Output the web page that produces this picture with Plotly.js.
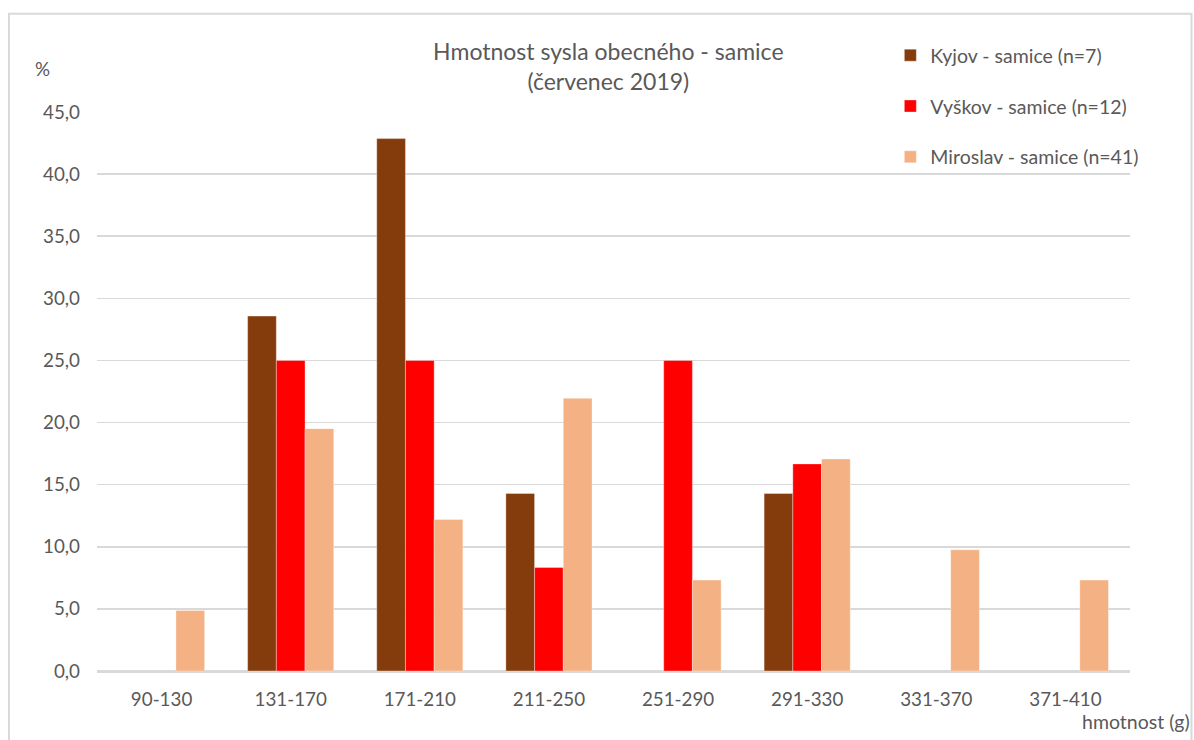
<!DOCTYPE html>
<html>
<head>
<meta charset="utf-8">
<script src="https://cdn.plot.ly/plotly-3.0.1.min.js"></script>
<style>
  html, body { margin: 0; padding: 0; background: #fff; }
  #chart { width: 1194px; height: 740px; }
</style>
</head>
<body>
<div id="chart"></div>
<script>
// Weight classes (g)
const categories = ['90-130', '131-170', '171-210', '211-250', '251-290', '291-330', '331-370', '371-410'];

// Share of females per weight class (%)
const kyjov    = [null, 28.57, 42.86, 14.29, null, 14.29, null, null];
const vyskov   = [null, 25.0, 25.0, 8.33, 25.0, 16.67, null, null];
const miroslav = [4.88, 19.51, 12.20, 21.95, 7.32, 17.07, 9.76, 7.32];

const seriesNames = ['Kyjov - samice (n=7)', 'Vyškov - samice (n=12)', 'Miroslav - samice (n=41)'];
const seriesColors = ['#843c0c', '#ff0000', '#f4b183'];

const FONT = 'Lato, "Open Sans", sans-serif';
const TEXT = '#595959';
const TICK = 18.8;

const traces = [kyjov, vyskov, miroslav].map((vals, i) => ({
  type: 'bar',
  name: seriesNames[i],
  x: categories,
  y: vals,
  legendgroup: 'g' + i,
  marker: { color: seriesColors[i], line: { color: 'rgba(255,255,255,0.35)', width: 1 } },
  hoverinfo: 'x+y+name'
}));

const layout = {
  width: 1194,
  height: 740,
  margin: { l: 97, r: 64, t: 112, b: 69 },
  paper_bgcolor: '#ffffff',
  plot_bgcolor: '#ffffff',
  font: { family: FONT, color: TEXT, size: TICK },
  barmode: 'group',
  bargap: 0.333,
  bargroupgap: 0,
  title: {
    text: 'Hmotnost sysla obecného - samice<br>(červenec 2019)',
    font: { family: FONT, size: 23, color: TEXT },
    x: 0.495, xref: 'paper', xanchor: 'center',
    y: 0.919, yref: 'container', yanchor: 'top'
  },
  xaxis: {
    type: 'category',
    showgrid: false,
    showline: true,
    linecolor: '#d9d9d9',
    linewidth: 1.5,
    ticks: '',
    ticklabelstandoff: 11,
    tickfont: { family: FONT, size: TICK, color: TEXT },
    zeroline: false
  },
  yaxis: {
    range: [0, 45],
    dtick: 5,
    tickformat: '.1f',
    showgrid: true,
    gridcolor: '#d9d9d9',
    gridwidth: 1.5,
    zeroline: true,
    zerolinecolor: '#d9d9d9',
    zerolinewidth: 1.5,
    showline: false,
    ticks: '',
    ticklabelstandoff: 16,
    tickfont: { family: FONT, size: TICK, color: TEXT }
  },
  separators: ',.',
  showlegend: true,
  legend: {
    x: 0.768, xanchor: 'left',
    y: 1.136, yanchor: 'top',
    bgcolor: 'rgba(255,255,255,0)',
    traceorder: 'grouped',
    tracegroupgap: 22.5,
    font: { family: FONT, size: 19.5, color: TEXT },
    itemwidth: 30
  },
  annotations: [
    {
      text: '%', xref: 'paper', yref: 'paper',
      x: -0.053, y: 1.078, xanchor: 'center', yanchor: 'middle',
      showarrow: false, font: { family: FONT, size: TICK, color: TEXT }
    },
    {
      text: 'hmotnost (g)', xref: 'paper', yref: 'paper',
      x: 1.06, y: -0.09, xanchor: 'right', yanchor: 'middle',
      showarrow: false, font: { family: FONT, size: 19.5, color: TEXT }
    }
  ],
  shapes: [
    // chart frame
    {
      type: 'rect', xref: 'paper', yref: 'paper',
      x0: -0.0852, x1: 1.0595, y0: -0.2, y1: 1.1757,
      line: { color: '#d9d9d9', width: 2 }, fillcolor: 'rgba(0,0,0,0)', layer: 'below'
    }
  ]
};

Plotly.newPlot('chart', traces, layout, { displayModeBar: false, staticPlot: true });
</script>
</body>
</html>
